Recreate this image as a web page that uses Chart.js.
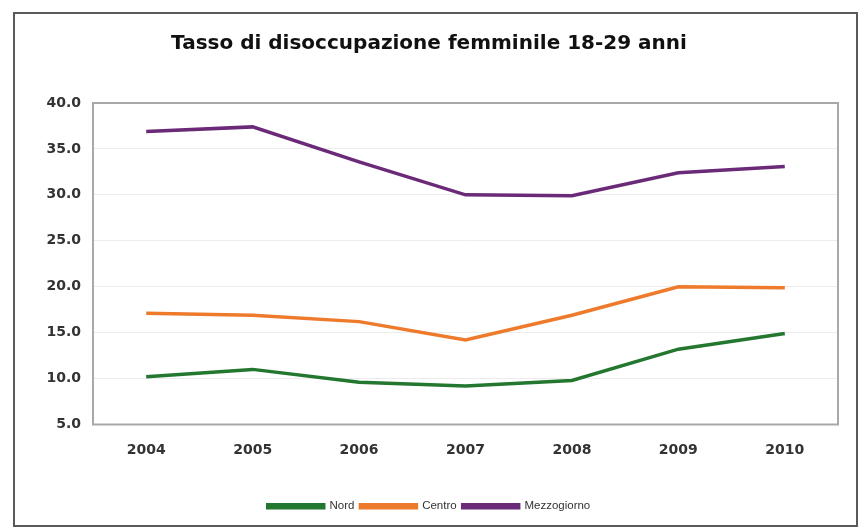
<!DOCTYPE html>
<html>
<head>
<meta charset="utf-8">
<script src="https://cdn.jsdelivr.net/npm/chart.js@4/dist/chart.umd.min.js"></script>
<style>
  html, body { margin: 0; padding: 0; background: #ffffff; }
  #wrap { position: relative; width: 864px; height: 531px; }
</style>
</head>
<body>
<div id="wrap"><canvas id="c" width="864" height="531"></canvas></div>
<script>
const years = ['2004', '2005', '2006', '2007', '2008', '2009', '2010'];
const nord = [10.2, 11.0, 9.6, 9.2, 9.8, 13.2, 14.9];
const centro = [17.1, 16.9, 16.2, 14.2, 16.9, 20.0, 19.9];
const mezzogiorno = [36.9, 37.4, 33.6, 30.0, 29.9, 32.4, 33.1];
const yTicks = [5, 10, 15, 20, 25, 30, 35, 40];

const FONT = "'Liberation Sans', Arial, sans-serif";
const WIDE = "'DejaVu Sans', Verdana, sans-serif";

// Outer frame around the whole figure and a box around the plot area
const frames = {
  id: 'frames',
  beforeDraw(chart) {
    const ctx = chart.ctx;
    ctx.save();
    ctx.fillStyle = '#ffffff';
    ctx.fillRect(0, 0, chart.width, chart.height);
    ctx.strokeStyle = '#5a5a5a';
    ctx.lineWidth = 2;
    ctx.strokeRect(14, 13, 843, 513);
    ctx.restore();
  },
  afterDatasetsDraw(chart) {
    const a = chart.chartArea;
    const ctx = chart.ctx;
    ctx.save();
    ctx.strokeStyle = '#a8a8a8';
    ctx.lineWidth = 2;
    ctx.strokeRect(a.left, a.top, a.right - a.left, a.bottom - a.top);
    ctx.restore();
  }
};

new Chart(document.getElementById('c'), {
  type: 'line',
  data: {
    labels: years,
    datasets: [
      { label: 'Nord', data: nord, borderColor: '#23772f', backgroundColor: '#23772f' },
      { label: 'Centro', data: centro, borderColor: '#ee7a2c', backgroundColor: '#ee7a2c' },
      { label: 'Mezzogiorno', data: mezzogiorno, borderColor: '#6b2a78', backgroundColor: '#6b2a78' }
    ]
  },
  options: {
    responsive: false,
    animation: false,
    layout: { padding: { left: 20, right: 26, top: 32, bottom: 9 } },
    elements: {
      line: { borderWidth: 3.5, tension: 0 },
      point: { radius: 0, hoverRadius: 0 }
    },
    plugins: {
      title: {
        display: true,
        text: 'Tasso di disoccupazione femminile 18-29 anni',
        color: '#111',
        font: { family: WIDE, size: 20, weight: 'bold' },
        padding: { top: 0, bottom: 47 }
      },
      legend: {
        position: 'bottom',
        labels: {
          boxWidth: 56,
          boxHeight: 3,
          padding: 6,
          color: '#333',
          font: { family: FONT, size: 11.5 }
        }
      },
      tooltip: { enabled: false }
    },
    scales: {
      x: {
        offset: true,
        afterFit(scale) { scale.height = 70; },
        grid: { display: false, drawTicks: false },
        border: { display: false },
        ticks: {
          padding: 17,
          color: '#333',
          font: { family: WIDE, size: 14, weight: 'bold' }
        }
      },
      y: {
        min: 5,
        max: 40,
        afterBuildTicks(scale) {
          scale.ticks = yTicks.map(v => ({ value: v }));
        },
        afterFit(scale) { scale.width = 73; },
        grid: { color: '#ececec', drawTicks: false },
        border: { display: false },
        ticks: {
          padding: 12,
          color: '#333',
          font: { family: WIDE, size: 14, weight: 'bold' },
          callback: v => Number(v).toFixed(1)
        }
      }
    }
  },
  plugins: [frames]
});
</script>
</body>
</html>
